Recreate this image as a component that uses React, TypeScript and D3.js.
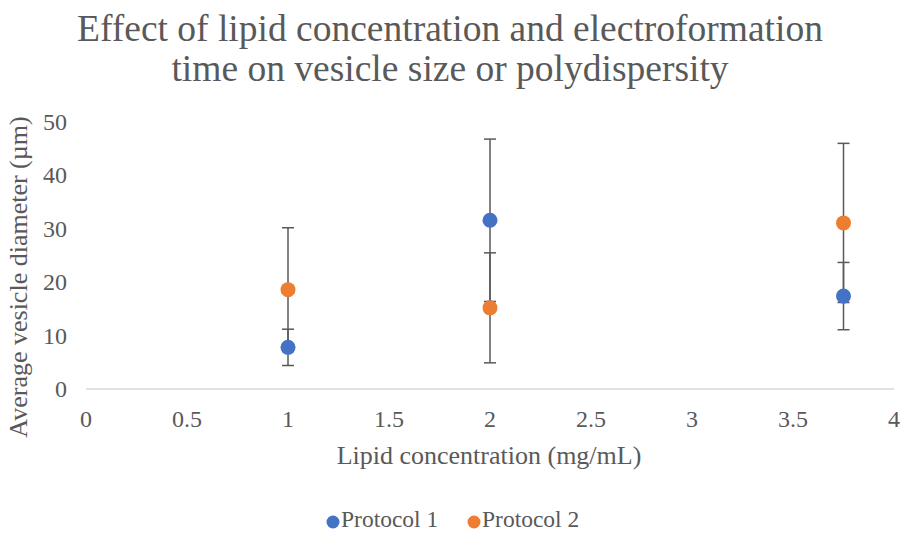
import React from "react";
import * as d3 from "d3";

const xValues = [1, 2, 3.75];
const protocol1 = [7.8, 31.6, 17.4];
const protocol1Err = [3.4, 15.2, 6.3];
const protocol2 = [18.6, 15.2, 31.1];
const protocol2Err = [11.6, 10.3, 14.9];
const xTicks = [0, 0.5, 1, 1.5, 2, 2.5, 3, 3.5, 4];
const yTicks = [0, 10, 20, 30, 40, 50];
const seriesNames = ["Protocol 1", "Protocol 2"];
const colors = ["#4472C4", "#ED7D31"];

export default function App() {
  const W = 901, H = 533;
  const x = d3.scaleLinear().domain([0, 4]).range([86, 894]);
  const y = d3.scaleLinear().domain([0, 50]).range([389, 122]);
  const font = "'Liberation Serif', 'Times New Roman', serif";
  const series = [
    { vals: protocol1, err: protocol1Err },
    { vals: protocol2, err: protocol2Err },
  ];
  return (
    <div style={{ position: "absolute", left: 0, top: 0 }}>
      <svg width={W} height={H} style={{ display: "block", background: "#fff" }}>
        <text x={450} y={41} textAnchor="middle" fontFamily={font} fontSize={37.5} fill="#595959">
          Effect of lipid concentration and electroformation
        </text>
        <text x={450} y={81} textAnchor="middle" fontFamily={font} fontSize={37.5} fill="#595959">
          time on vesicle size or polydispersity
        </text>
        <line x1={x(0)} x2={x(4)} y1={y(0)} y2={y(0)} stroke="#d9d9d9" strokeWidth={1.3} />
        {yTicks.map((t) => (
          <text key={t} x={67} y={y(t) + 8} textAnchor="end" fontFamily={font} fontSize={24} fill="#595959">
            {t}
          </text>
        ))}
        {xTicks.map((t) => (
          <text key={t} x={x(t)} y={427} textAnchor="middle" fontFamily={font} fontSize={24} fill="#595959">
            {t}
          </text>
        ))}
        <text x={489} y={464} textAnchor="middle" fontFamily={font} fontSize={26} fill="#595959">
          Lipid concentration (mg/mL)
        </text>
        <text
          transform={`translate(27, 277) rotate(-90)`}
          textAnchor="middle"
          fontFamily={font}
          fontSize={26}
          fill="#595959"
        >
          Average vesicle diameter (µm)
        </text>
        {series.map((s, si) =>
          xValues.map((xv, i) => {
            const cx = x(xv);
            const top = y(s.vals[i] + s.err[i]);
            const bot = y(s.vals[i] - s.err[i]);
            return (
              <g key={`e${si}-${i}`} stroke="#595959" strokeWidth={1.5}>
                <line x1={cx} x2={cx} y1={top} y2={bot} />
                <line x1={cx - 6} x2={cx + 6} y1={top} y2={top} />
                <line x1={cx - 6} x2={cx + 6} y1={bot} y2={bot} />
              </g>
            );
          })
        )}
        {series.map((s, si) =>
          xValues.map((xv, i) => (
            <circle key={`m${si}-${i}`} cx={x(xv)} cy={y(s.vals[i])} r={7.5} fill={colors[si]} />
          ))
        )}
        {seriesNames.map((n, i) => (
          <g key={n}>
            <circle cx={333 + i * 141} cy={522} r={6.5} fill={colors[i]} />
            <text x={341 + i * 141} y={527} fontFamily={font} fontSize={23.5} fill="#595959">
              {n}
            </text>
          </g>
        ))}
      </svg>
    </div>
  );
}
